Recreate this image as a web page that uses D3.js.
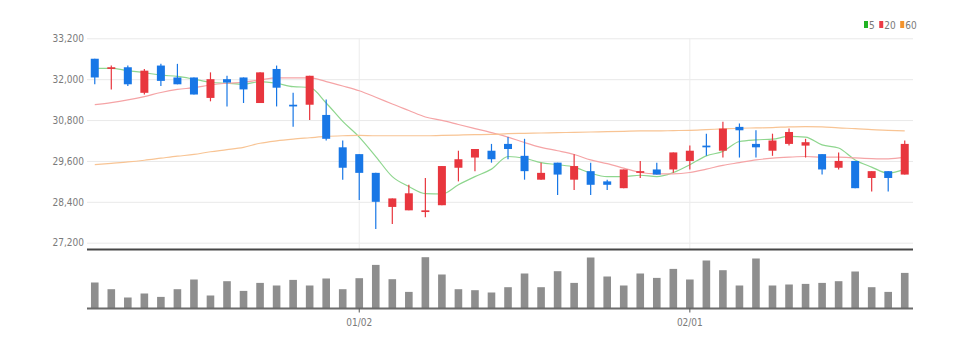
<!DOCTYPE html>
<html>
<head>
<meta charset="utf-8">
<script src="https://cdn.jsdelivr.net/npm/d3@7/dist/d3.min.js"></script>
<style>
  html, body { margin: 0; padding: 0; background: #fff; }
  svg text { font-family: "Liberation Sans Narrow", "DejaVu Sans Condensed", "Liberation Sans", sans-serif; }
</style>
</head>
<body>
<svg id="chart" width="974" height="347"></svg>
<script>
// Trading days (MM/DD)
const dates = ["12/08","12/09","12/12","12/13","12/14","12/15","12/16","12/19","12/20","12/21",
  "12/22","12/23","12/26","12/27","12/28","12/29","01/02","01/03","01/04","01/05",
  "01/06","01/09","01/10","01/11","01/12","01/13","01/16","01/17","01/18","01/19",
  "01/20","01/25","01/26","01/27","01/30","01/31","02/01","02/02","02/03","02/06",
  "02/07","02/08","02/09","02/10","02/13","02/14","02/15","02/16","02/17","02/20"];

const open  = [32600,32300,32350,31600,32400,32050,32050,31450,32000,32050,
  31300,32300,31250,31250,30950,30000,29800,29250,28250,28150,
  28100,28300,29400,29700,29900,30100,29750,29050,29550,29050,
  29300,29000,28800,29250,29350,29350,29600,30050,29900,30600,
  30100,29900,30100,30050,29800,29400,29600,29100,29300,29200];
const high  = [32600,32400,32400,32300,32450,32450,32050,32200,32100,32050,
  32200,32400,31600,32100,31400,30200,29800,29250,28500,28900,
  29100,29450,29900,29950,30100,30300,30250,29550,29550,29800,
  29550,29050,29350,29600,29550,29850,30050,30400,30750,30700,
  30500,30400,30550,30250,29800,29850,29600,29300,29300,30200];
const low   = [31850,31700,31800,31550,31800,31850,31550,31350,31200,31300,
  31300,31200,30600,30800,30200,29050,28450,27600,27750,28150,
  27950,28300,29000,29300,29550,29650,29050,29050,28600,28750,
  28600,28750,28800,29100,29200,29250,29350,29750,29700,29700,
  29700,29750,30050,29700,29200,29350,28800,28700,28700,29200];
const close = [32050,32350,31850,32250,31950,31850,31550,32000,31900,31700,
  32200,31750,31200,32100,30250,29400,29250,28400,28500,28650,
  28150,29450,29650,29950,29650,29950,29300,29250,29200,29450,
  28900,28900,29350,29300,29200,29850,29900,30000,30550,30500,
  30000,30200,30450,30150,29350,29600,28800,29300,29100,30100];

// Moving averages (5, 20, 60 days)
const ma5  = [32320,32320,32250,32190,32120,32080,32000,31910,31880,31850,
  31930,31880,31780,31760,31300,30760,30300,29730,29140,28850,
  28640,28630,28900,29140,29360,29730,29680,29550,29490,29420,
  29240,29140,29140,29180,29140,29260,29490,29750,29880,30170,
  30220,30240,30320,30300,30070,29980,29630,29420,29240,29360];
const ma20 = [31250,31310,31390,31490,31610,31700,31750,31830,31880,31910,
  31980,32040,32040,32040,31930,31800,31660,31470,31270,31080,
  30890,30790,30670,30550,30430,30300,30140,30000,29900,29790,
  29630,29520,29390,29260,29220,29220,29260,29360,29470,29550,
  29630,29680,29710,29730,29710,29710,29690,29670,29660,29710];
const ma60 = [29490,29530,29570,29620,29680,29740,29790,29870,29930,30000,
  30120,30190,30240,30280,30320,30340,30350,30340,30340,30340,
  30340,30350,30360,30370,30380,30400,30410,30420,30430,30440,
  30450,30460,30470,30480,30480,30490,30500,30520,30540,30560,
  30570,30580,30600,30610,30600,30570,30550,30520,30500,30480];

const volume = [260,193,110,150,116,193,290,130,273,176,
  256,230,286,230,300,193,303,436,293,166,
  513,340,193,183,160,213,350,213,373,256,
  510,320,230,350,306,396,290,480,383,230,
  500,230,240,246,256,273,370,213,166,356];

const priceTicks = [27200, 28400, 29600, 30800, 32000, 33200];
const monthTicks = ["01/02", "02/01"];

const maSeries = [
  { name: "5",  values: ma5,  line: "#8ed68e", key: "#22b322" },
  { name: "20", values: ma20, line: "#f5a4a6", key: "#ec3b45" },
  { name: "60", values: ma60, line: "#f8c494", key: "#f3932c" }
];

const UP = "#e8363e", DOWN = "#1877e6";

const svg = d3.select("#chart");
const left = 87, right = 913;

const x = d3.scaleBand().domain(dates).range([86.5, 913]).padding(0);
const cx = d => x(d) + x.bandwidth() / 2;
const y = d3.scaleLinear().domain([27200, 33200]).range([242.7, 38.3]);
const v = d3.scaleLinear().domain([0, 520]).range([308.5, 256.5]);

// horizontal grid + price labels
const yAxis = d3.axisLeft(y).tickValues(priceTicks).tickSize(-(right - left))
  .tickFormat(d3.format(","));
const gy = svg.append("g").attr("transform", `translate(${left},0)`).call(yAxis);
gy.select(".domain").remove();
gy.selectAll(".tick line").attr("stroke", "#e9e9e9").attr("stroke-width", 1);
gy.selectAll(".tick text").attr("x", -3).attr("fill", "#7a7a7a")
  .style("font-size", "10px");

// vertical grid at month starts
svg.append("g").selectAll("line").data(monthTicks).join("line")
  .attr("x1", d => cx(d)).attr("x2", d => cx(d))
  .attr("y1", 38.3).attr("y2", 249)
  .attr("stroke", "#ececec").attr("stroke-width", 1);

// moving average lines
const lineGen = vals => d3.line()
  .x((_, i) => cx(dates[i]))
  .y(d => y(d))
  .curve(d3.curveMonotoneX)(vals);
svg.append("g").selectAll("path").data(maSeries).join("path")
  .attr("d", s => lineGen(s.values))
  .attr("fill", "none")
  .attr("stroke", s => s.line)
  .attr("stroke-width", 1.2);

// candles
const candles = svg.append("g").selectAll("g").data(dates).join("g");
const col = i => close[i] >= open[i] ? UP : DOWN;
candles.append("line")
  .attr("x1", d => cx(d)).attr("x2", d => cx(d))
  .attr("y1", (d, i) => y(high[i])).attr("y2", (d, i) => y(low[i]))
  .attr("stroke", (d, i) => col(i)).attr("stroke-width", 1.2);
candles.append("rect")
  .attr("x", d => cx(d) - 4).attr("width", 8)
  .attr("y", (d, i) => y(Math.max(open[i], close[i])))
  .attr("height", (d, i) => Math.max(1.5, Math.abs(y(open[i]) - y(close[i]))))
  .attr("fill", (d, i) => col(i));

// divider between price and volume panes
svg.append("line").attr("x1", left).attr("x2", right).attr("y1", 249.5).attr("y2", 249.5)
  .attr("stroke", "#474747").attr("stroke-width", 2);

// volume bars
svg.append("g").selectAll("rect").data(dates).join("rect")
  .attr("x", d => cx(d) - 3.8).attr("width", 7.6)
  .attr("y", (d, i) => v(volume[i]))
  .attr("height", (d, i) => v(0) - v(volume[i]))
  .attr("fill", "#8e8e8e");

// volume baseline and month axis
const xAxis = d3.axisBottom(x).tickValues(monthTicks).tickSize(4).tickPadding(6);
const gx = svg.append("g").attr("transform", "translate(0,308.5)").call(xAxis);
gx.select(".domain").attr("d", `M${left},0H${right}`).attr("stroke", "#6b6b6b").attr("stroke-width", 2);
gx.selectAll(".tick line").attr("stroke", "#555");
gx.selectAll(".tick text").attr("fill", "#7a7a7a").style("font-size", "10px");

// legend
const legend = svg.append("g").attr("transform", "translate(864,0)");
let lx = 0;
maSeries.forEach(s => {
  legend.append("rect").attr("x", lx).attr("y", 21).attr("width", 4).attr("height", 7).attr("fill", s.key);
  const t = legend.append("text").attr("x", lx + 5).attr("y", 28.5)
    .attr("fill", "#7a7a7a").style("font-size", "10px").text(s.name);
  lx += 5 + t.node().getComputedTextLength() + 4.5;
});
</script>
</body>
</html>
